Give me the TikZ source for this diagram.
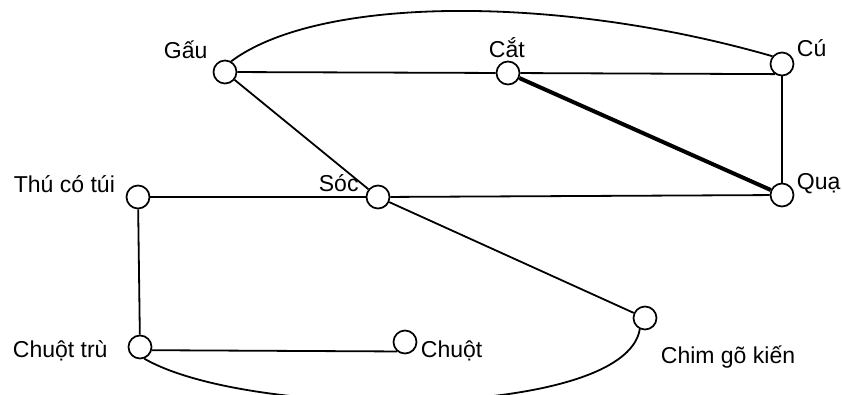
\documentclass[tikz,border=0pt]{standalone}
\usepackage{fontspec}
\setmainfont{Liberation Sans}

\begin{document}
\begin{tikzpicture}[x=1pt, y=-1pt, every node/.style={font=\fontsize{23}{27}\selectfont}, line width=1.8pt]
  \tikzset{
    species/.style={draw, circle, line width=1.7pt, minimum size=23pt, inner sep=0pt},
    spname/.style={anchor=base west, inner sep=0pt}
  }
  \useasboundingbox (0,0) rectangle (842,394);

  % Species (circles)
  \node[species] (gau)   at (225,72)  {};
  \node[species] (cat)   at (508,73)  {};
  \node[species] (cu)    at (782,64)  {};
  \node[species] (qua)   at (782,195) {};
  \node[species] (thu)   at (138,197) {};
  \node[species] (soc)   at (378,197) {};
  \node[species] (chim)  at (645,318) {};
  \node[species] (ctru)  at (140,347) {};
  \node[species] (chuot) at (405,342) {};

  % Names
  \node[spname] (gauL)   at (163,58)  {Gấu};
  \node[spname] (catL)   at (488,57)  {Cắt};
  \node[spname] (cuL)    at (796,56)  {Cú};
  \node[spname] (quaL)   at (796,189) {Quạ};
  \node[spname] (thuL)   at (13,192)  {Thú có túi};
  \node[spname] (socL)   at (318,191) {Sóc};
  \node[spname] (chimL)  at (660,363) {Chim gõ kiến};
  \node[spname] (ctruL)  at (12,357)  {Chuột trù};
  \node[spname] (chuotL) at (420,357) {Chuột};

  % Links
  \draw (gau) -- (cat);
  \draw (cat) -- (cu.235);
  \draw (cu) -- (qua);
  \draw[line width=4pt] (cat) -- (qua);
  \draw (gau) -- (soc);
  \draw (thu) -- (soc);
  \draw (soc) -- (qua);
  \draw (soc) -- (chim);
  \draw (thu) -- (ctru);
  \draw (ctru.-15) -- (chuot.230);
  \draw (gau.60) .. controls (320,-5) and (560,-5) .. (cu.141);
  \draw (ctru.290) .. controls (250,420) and (625,420) .. (chim.245);
\end{tikzpicture}
\end{document}
